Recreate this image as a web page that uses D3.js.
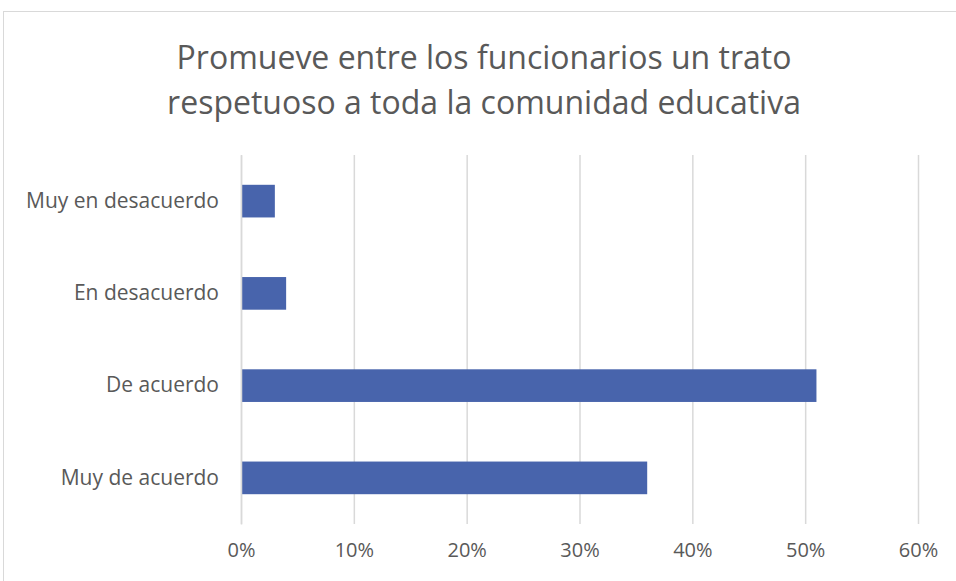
<!DOCTYPE html>
<html>
<head>
<meta charset="utf-8">
<script src="https://cdn.jsdelivr.net/npm/d3@7"></script>
<style>
  html, body { margin: 0; padding: 0; background: #fff; }
  svg { display: block; font-family: "Open Sans", "Liberation Sans", sans-serif; }
</style>
</head>
<body>
<div id="chart"></div>
<script>
// datos del gráfico
const categories = ['Muy en desacuerdo', 'En desacuerdo', 'De acuerdo', 'Muy de acuerdo'];
const values = [0.03, 0.04, 0.51, 0.36];
const tickValues = [0, 0.1, 0.2, 0.3, 0.4, 0.5, 0.6];
const titleLines = ['Promueve entre los funcionarios un trato', 'respetuoso a toda la comunidad educativa'];

const width = 956, height = 581;
const margin = { top: 155, right: 38, bottom: 57, left: 241 };

const svg = d3.select('#chart').append('svg')
    .attr('width', width)
    .attr('height', height);

// marco del gráfico
svg.append('rect')
    .attr('x', 3.5).attr('y', 11.5)
    .attr('width', width + 10).attr('height', height + 10)
    .attr('fill', 'none')
    .attr('stroke', '#d9d9d9');

const x = d3.scaleLinear()
    .domain([0, 0.6])
    .range([margin.left, width - margin.right]);

const y = d3.scaleBand()
    .domain(categories)
    .range([margin.top, height - margin.bottom])
    .paddingInner(0.646)
    .paddingOuter(0.323);

// líneas de cuadrícula
svg.append('g')
    .selectAll('line')
    .data(tickValues)
    .join('line')
    .attr('x1', d => x(d) + 0.5).attr('x2', d => x(d) + 0.5)
    .attr('y1', margin.top).attr('y2', height - margin.bottom)
    .attr('stroke', '#d9d9d9')
    .attr('stroke-width', 1.5);

// barras
svg.append('g')
    .selectAll('rect')
    .data(categories)
    .join('rect')
    .attr('x', x(0) + 1)
    .attr('y', d => y(d))
    .attr('width', (d, i) => x(values[i]) - x(0) - 1)
    .attr('height', y.bandwidth())
    .attr('fill', '#4864ac');

// eje X
const xAxis = svg.append('g')
    .attr('transform', `translate(0,${height - margin.bottom})`)
    .call(d3.axisBottom(x).tickValues(tickValues).tickFormat(d3.format('.0%')).tickSize(0).tickPadding(19));
xAxis.select('.domain').remove();
xAxis.selectAll('text')
    .attr('fill', '#595959')
    .style('font-size', '20px')
    .style('font-family', '"Open Sans", "Liberation Sans", sans-serif');

// eje Y
const yAxis = svg.append('g')
    .attr('transform', `translate(${margin.left},0)`)
    .call(d3.axisLeft(y).tickSize(0).tickPadding(22));
yAxis.select('.domain').attr('stroke', '#d9d9d9').attr('stroke-width', 1.5);
yAxis.selectAll('text')
    .attr('fill', '#595959')
    .style('font-size', '21px')
    .style('font-family', '"Open Sans", "Liberation Sans", sans-serif');

// título
svg.append('text')
    .attr('text-anchor', 'middle')
    .attr('fill', '#595959')
    .style('font-size', '32px')
    .selectAll('tspan')
    .data(titleLines)
    .join('tspan')
    .attr('x', 484)
    .attr('y', (d, i) => 69 + i * 45)
    .text(d => d);
</script>
</body>
</html>
